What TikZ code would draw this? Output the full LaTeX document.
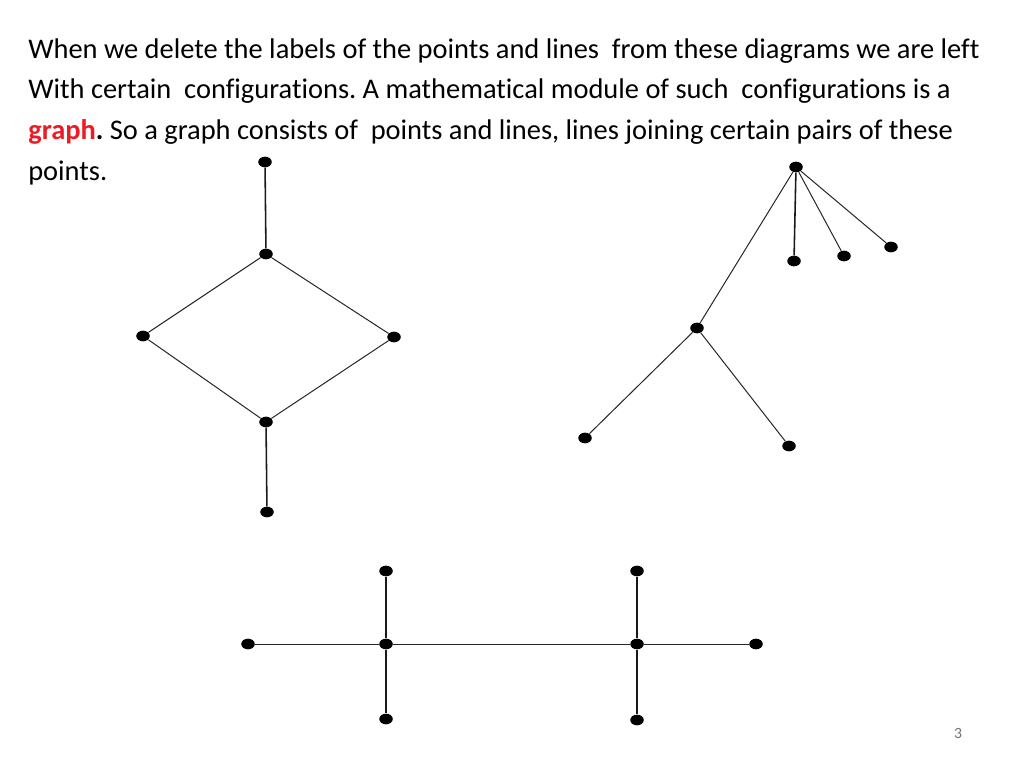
\documentclass[tikz,border=0pt]{standalone}
\usepackage{fontspec}
\setmainfont{Carlito}[Ligatures=NoCommon]
\usetikzlibrary{shapes.geometric}
\frenchspacing
\tikzstyle{vertex}=[ellipse,fill=black,minimum width=9.5pt,minimum height=7.5pt,inner sep=0pt]
\tikzstyle{edge} = [draw,line width=0.7pt,black!85]
\tikzstyle{stem} = [draw,line width=1.1pt,black!90]
\tikzstyle{para} = [font=\fontsize{20pt}{28.8pt}\selectfont,align=left,inner sep=0pt]
\definecolor{graphred}{RGB}{237,28,36}

\begin{document}
\begin{tikzpicture}[x=0.703125pt,y=-0.703125pt]
\useasboundingbox[fill=white] (0,0) rectangle (1024,768);

\node[para,anchor=north west] (text) at (28,38) {When we delete the labels of the points and lines\ \ from these diagrams we are left\\
With certain\ \ configurations. A mathematical module of such\ \ configurations is a\\
{\color{graphred}\bfseries graph}{\bfseries .} So a graph consists of\ \ points and lines, lines joining certain pairs of these\\
points.};

% diamond
\node[vertex] (1) at (265,162) {};
\node[vertex] (2) at (266,254) {};
\node[vertex] (3) at (143,336) {};
\node[vertex] (4) at (394,337) {};
\node[vertex] (5) at (266,422) {};
\node[vertex] (6) at (267,512) {};
\path[stem] (1) -- (2);
\path[edge] (2) -- (3);
\path[edge] (2) -- (4);
\path[edge] (3) -- (5);
\path[edge] (4) -- (5);
\path[stem] (5) -- (6);

% tree
\node[vertex] (10) at (796,167) {};
\node[vertex] (11) at (794,261) {};
\node[vertex] (12) at (844,256) {};
\node[vertex] (13) at (891,247) {};
\node[vertex] (14) at (697,328) {};
\node[vertex] (15) at (585,438) {};
\node[vertex] (16) at (789,446) {};
\path[stem] (10) -- (11);
\path[edge] (10) -- (12);
\path[edge] (10) -- (13);
\path[edge] (10) -- (14);
\path[edge] (14) -- (15);
\path[edge] (14) -- (16);

% double cross
\node[vertex] (20) at (248,644) {};
\node[vertex] (21) at (386,644) {};
\node[vertex] (22) at (386,571) {};
\node[vertex] (23) at (386,719) {};
\node[vertex] (24) at (637,644) {};
\node[vertex] (25) at (637,571) {};
\node[vertex] (26) at (637,720) {};
\node[vertex] (27) at (756,644) {};
\path[edge] (20) -- (21);
\path[edge] (21) -- (24);
\path[edge] (24) -- (27);
\path[stem] (22) -- (21);
\path[stem] (21) -- (23);
\path[stem] (25) -- (24);
\path[stem] (24) -- (26);

\node[font=\fontsize{11pt}{13pt}\selectfont,text=black!55] (page) at (958,733) {3};
\end{tikzpicture}
\end{document}
